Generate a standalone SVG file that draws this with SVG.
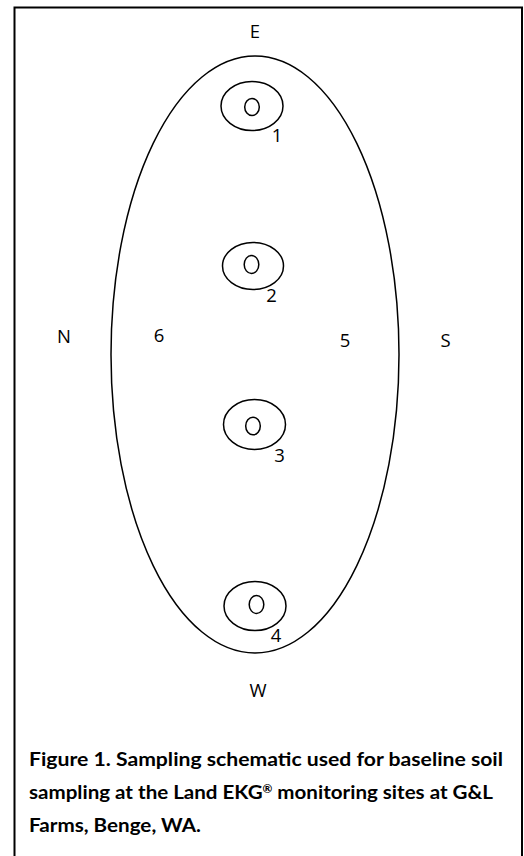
<svg xmlns="http://www.w3.org/2000/svg" width="524" height="856" viewBox="0 0 524 856">
<style>
.frame{fill:none;stroke:#000;stroke-width:2}
.shape{fill:none;stroke:#000;stroke-width:1.5}
.lbl{font-family:"Open Sans","Liberation Sans",sans-serif;font-size:18.5px;fill:#000;text-anchor:middle}
.cap{font-family:Lato,"Liberation Sans",sans-serif;font-size:19px;font-weight:bold;fill:#000}
</style>
<rect width="524" height="856" fill="#fff"/>
<rect class="frame" x="14.5" y="7.5" width="507.5" height="870"/>
<g id="field">
<ellipse class="shape" cx="255" cy="354.5" rx="144" ry="298.5"/>
</g>
<g id="site1">
<ellipse class="shape" cx="252" cy="106" rx="31" ry="24.5"/>
<ellipse class="shape" cx="252" cy="107" rx="7.3" ry="8.5"/>
<text class="lbl" x="277" y="142">1</text>
</g>
<g id="site2">
<ellipse class="shape" cx="253" cy="266" rx="30.5" ry="23.5"/>
<ellipse class="shape" cx="251.5" cy="264.5" rx="7.3" ry="9"/>
<text class="lbl" x="271.5" y="301.5">2</text>
</g>
<g id="site3">
<ellipse class="shape" cx="254.5" cy="424.5" rx="31" ry="25"/>
<ellipse class="shape" cx="253" cy="426" rx="7.3" ry="8.8"/>
<text class="lbl" x="279.5" y="462">3</text>
</g>
<g id="site4">
<ellipse class="shape" cx="255" cy="606" rx="31" ry="24.5"/>
<ellipse class="shape" cx="256.5" cy="604.5" rx="7.3" ry="9"/>
<text class="lbl" x="276" y="641.5">4</text>
</g>
<g id="site5"><text class="lbl" x="345" y="346.5">5</text></g>
<g id="site6"><text class="lbl" x="159" y="341.5">6</text></g>
<g id="compass">
<text class="lbl" x="255" y="37.5">E</text>
<text class="lbl" x="258" y="697">W</text>
<text class="lbl" x="64" y="343">N</text>
<text class="lbl" x="445.5" y="346.5">S</text>
</g>
<g id="connectors"></g>
<g id="caption">
<text class="cap" x="29" y="766" textLength="474" lengthAdjust="spacingAndGlyphs">Figure 1. Sampling schematic used for baseline soil</text>
<text class="cap" x="29" y="799" textLength="464" lengthAdjust="spacingAndGlyphs">sampling at the Land EKG<tspan font-size="11" dy="-6">®</tspan><tspan dy="6"> monitoring sites at G&amp;L</tspan></text>
<text class="cap" x="29" y="832" textLength="172" lengthAdjust="spacingAndGlyphs">Farms, Benge, WA.</text>
</g>
</svg>
